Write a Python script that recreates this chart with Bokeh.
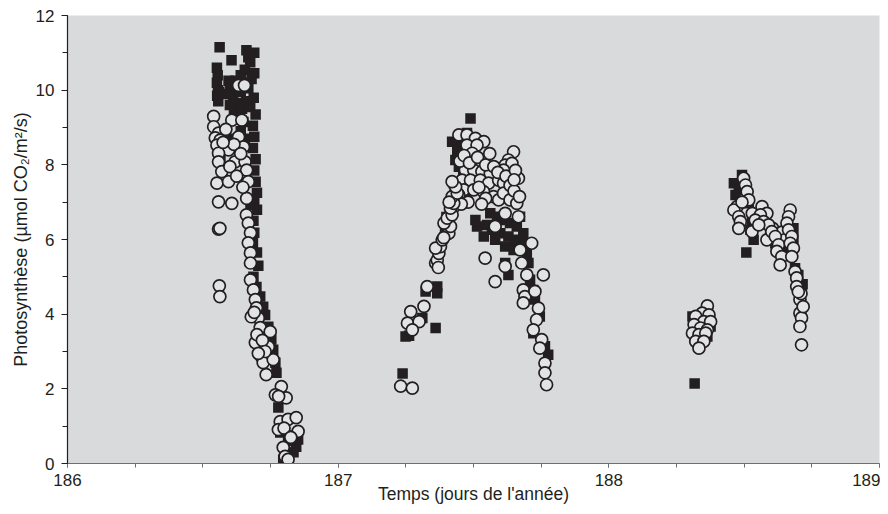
from bokeh.plotting import figure
from bokeh.models import SingleIntervalTicker, Range1d
from bokeh.embed import file_html
from bokeh.resources import INLINE

# ---- data (day of year, photosynthesis µmol CO2/m2/s) ----
sq_day = [
    186.562, 186.606, 186.661, 186.668, 186.655,
    186.552, 186.555, 186.552, 186.556, 186.553, 186.557, 186.560,
    186.600, 186.612, 186.625, 186.640, 186.655, 186.668, 186.680, 186.690,
    186.600, 186.615, 186.630, 186.645, 186.660, 186.675, 186.688, 186.695,
    186.650, 186.685, 186.620, 186.640, 186.675, 186.690, 186.585, 186.595,
    186.560, 186.565, 186.570, 186.600, 186.640, 186.655,
    186.690, 186.685, 186.695, 186.690, 186.695, 186.700, 186.690, 186.700, 186.676,
    186.687, 186.690, 186.685, 186.700, 186.705, 186.687, 186.698, 186.712,
    186.723, 186.730, 186.742, 186.753, 186.760, 186.768, 186.772, 186.779,
    186.786, 186.845, 186.804, 186.797, 186.852, 186.835, 186.815, 186.830,
    187.489, 187.238, 187.262, 187.249, 187.311, 187.360, 187.323, 187.366, 187.366,
    187.421, 187.440, 187.433, 187.446, 187.476, 187.483, 187.427, 187.476,
    187.507, 187.513, 187.538,
    187.562, 187.587, 187.611, 187.635, 187.660, 187.684, 187.568, 187.599,
    187.629, 187.654, 187.684, 187.617, 187.648, 187.697, 187.550, 187.580,
    187.672, 187.617, 187.629, 187.703, 187.709, 187.721, 187.727, 187.721,
    187.745, 187.764, 187.776,
    187.400, 187.410, 187.395, 187.380, 187.430, 187.455, 187.470, 187.462,
    188.317, 188.309, 188.315, 188.376, 188.364, 188.330,
    188.492, 188.462, 188.480, 188.468, 188.517, 188.529, 188.523, 188.535,
    188.508, 188.566, 188.596, 188.615, 188.645, 188.664, 188.682, 188.682,
    188.688, 188.700, 188.712, 188.716, 188.500,
]
sq_ps = [
    11.15, 10.80, 11.07, 10.88, 10.55,
    10.60, 10.40, 10.20, 10.00, 9.85, 9.70, 9.95,
    10.05, 9.85, 9.65, 9.95, 10.20, 10.05, 10.30, 10.45,
    9.60, 9.40, 9.25, 9.50, 9.70, 9.55, 9.80, 9.35,
    9.15, 9.05, 10.25, 10.40, 10.75, 11.00, 9.90, 10.25,
    8.55, 8.20, 7.90, 8.70, 8.90, 8.70,
    8.75, 8.45, 8.15, 7.85, 7.55, 7.25, 7.00, 6.80, 6.93,
    6.50, 6.18, 5.90, 5.65, 5.30, 5.00, 4.73, 4.47,
    4.20, 3.98, 3.66, 3.32, 3.05, 2.70, 2.43, 1.50,
    0.83, 0.45, 0.29, 0.10, 0.64, 0.30, 0.60, 0.75,
    9.24, 2.41, 3.42, 3.40, 3.90, 3.63, 4.61, 4.74, 4.56,
    8.62, 8.40, 8.13, 7.95, 8.85, 8.31, 7.51, 7.10,
    6.52, 6.35, 6.08,
    6.70, 6.61, 6.52, 6.44, 6.35, 6.17, 6.26, 6.17,
    6.08, 5.99, 5.90, 5.81, 5.72, 5.63, 6.39, 5.99,
    6.61, 5.37, 5.05, 5.37, 4.92, 4.65, 4.39, 3.49,
    3.94, 3.14, 2.91,
    6.60, 6.90, 6.30, 5.90, 7.20, 8.60, 8.45, 7.70,
    2.14, 3.94, 3.49, 3.67, 3.40, 3.75,
    7.73, 7.51, 7.33, 7.19, 6.97, 6.52, 6.26, 5.99,
    5.65, 6.48, 6.17, 5.90, 5.72, 5.59, 6.30, 6.03,
    5.23, 5.05, 4.65, 4.80, 7.60,
]

ci_day = [
    186.632, 186.654, 186.540, 186.607, 186.644, 186.540, 186.558, 186.546,
    186.564, 186.632, 186.650, 186.552, 186.595, 186.558, 186.558, 186.619,
    186.656, 186.570, 186.662, 186.668, 186.552, 186.595, 186.558, 186.607,
    186.662, 186.558, 186.563, 186.561, 186.563,
    186.585, 186.615, 186.640, 186.575, 186.600, 186.625, 186.648,
    186.661, 186.668, 186.676, 186.668, 186.676, 186.676, 186.676, 186.687,
    186.694, 186.698, 186.705, 186.679, 186.712, 186.749, 186.694, 186.742,
    186.716, 186.723, 186.734, 186.760, 186.790, 186.768, 186.808, 186.786,
    186.815, 186.845, 186.779, 186.852, 186.797, 186.804, 186.815,
    186.690, 186.700, 186.720, 186.730, 186.705, 186.780, 186.800, 186.825,
    187.446, 187.476, 187.507, 187.538, 187.476, 187.513, 187.495, 187.648,
    187.629, 187.617, 187.642,
    187.470, 187.501, 187.531, 187.562, 187.458, 187.489, 187.525, 187.556,
    187.593, 187.611, 187.464, 187.501, 187.537, 187.574, 187.593, 187.446,
    187.440, 187.428, 187.611, 187.635, 187.660, 187.666, 187.611,
    187.450, 187.465, 187.485, 187.515, 187.545, 187.560, 187.575, 187.590,
    187.520, 187.545, 187.480, 187.455, 187.530, 187.620,
    187.635, 187.650, 187.655, 187.650, 187.670,
    187.666, 187.617, 187.580, 187.543, 187.715, 187.672, 187.678, 187.758,
    187.580, 187.617, 187.697, 187.684, 187.690, 187.684, 187.727, 187.740,
    187.733, 187.721, 187.752, 187.745, 187.764, 187.764, 187.770,
    187.329, 187.317, 187.268, 187.256, 187.299, 187.274, 187.231, 187.274,
    187.360, 187.366, 187.372, 187.378, 187.360, 187.385, 187.397, 187.409,
    187.415, 187.391, 187.403, 187.421, 187.415, 187.427, 187.421, 187.440,
    187.434, 187.421, 187.370, 187.390, 187.410,
    188.364, 188.345, 188.370, 188.321, 188.351, 188.376, 188.315, 188.339,
    188.364, 188.309, 188.333, 188.358, 188.321, 188.351, 188.333,
    188.498, 188.505, 188.511, 188.517, 188.474, 188.462, 188.480, 188.486,
    188.480, 188.529, 188.492, 188.530, 188.550, 188.605, 188.640, 188.652,
    188.566, 188.584, 188.560, 188.541, 188.572, 188.590, 188.554,
    188.584, 188.602, 188.615, 188.627, 188.621, 188.639, 188.633, 188.670,
    188.664, 188.658, 188.664, 188.676, 188.670, 188.682, 188.676, 188.688,
    188.694, 188.694, 188.706, 188.706, 188.712, 188.706, 188.712,
    188.710, 188.718, 188.700,
]
ci_ps = [
    10.13, 10.13, 9.30, 9.20, 9.20, 9.02, 8.85, 8.72,
    8.66, 8.75, 8.48, 8.53, 8.40, 8.31, 8.08, 8.08,
    8.08, 7.82, 7.86, 7.55, 7.51, 7.55, 7.01, 6.97,
    7.10, 6.28, 6.30, 4.76, 4.47,
    8.95, 8.55, 8.30, 8.60, 7.95, 7.70, 7.40,
    6.66, 6.44, 6.18, 5.91, 5.64, 5.37, 4.92, 4.65,
    4.39, 4.17, 3.90, 3.93, 3.64, 3.53, 3.24, 3.13,
    2.86, 2.70, 2.38, 2.78, 2.06, 1.84, 1.76, 1.12,
    1.18, 1.23, 0.91, 0.86, 0.43, 0.19, 0.11,
    4.05, 3.45, 3.30, 3.00, 2.95, 1.80, 0.95, 0.70,
    8.80, 8.80, 8.71, 8.62, 8.53, 8.53, 8.31, 8.35,
    8.13, 7.99, 8.04,
    7.86, 7.86, 7.82, 7.77, 7.59, 7.59, 7.59, 7.51,
    7.59, 7.51, 7.33, 7.33, 7.28, 7.15, 7.06, 7.19,
    7.06, 6.88, 7.24, 7.06, 6.97, 7.64, 7.86,
    8.10, 8.25, 8.05, 8.20, 8.00, 8.30, 7.95, 7.80,
    7.40, 7.10, 7.00, 6.95, 6.95, 7.70,
    7.45, 7.30, 7.85, 7.60, 7.15,
    6.61, 6.70, 6.35, 5.50, 5.90, 5.72, 5.37, 5.05,
    4.87, 5.28, 5.05, 4.65, 4.47, 4.30, 4.61, 4.16,
    3.85, 3.58, 3.32, 3.09, 2.69, 2.43, 2.11,
    4.74, 4.21, 4.07, 3.76, 3.80, 3.58, 2.07, 2.02,
    5.37, 5.45, 5.63, 5.81, 5.77, 5.99, 6.12, 6.17,
    6.35, 6.44, 6.57, 6.66, 6.84, 6.97, 7.15, 7.24,
    7.41, 7.55, 5.25, 6.05, 7.00,
    4.22, 4.03, 3.98, 3.94, 3.80, 3.80, 3.72, 3.63,
    3.58, 3.49, 3.45, 3.49, 3.27, 3.27, 3.09,
    7.64, 7.46, 7.28, 7.06, 6.88, 6.79, 6.61, 6.48,
    6.30, 6.21, 7.00, 6.70, 6.55, 6.30, 6.20, 6.00,
    6.88, 6.70, 6.66, 6.52, 6.48, 6.39, 6.39,
    5.99, 6.21, 6.08, 5.86, 5.68, 5.54, 5.32, 6.79,
    6.61, 6.44, 6.26, 6.08, 5.90, 5.77, 5.54, 5.14,
    4.97, 4.74, 4.39, 4.03, 3.90, 3.67, 3.18,
    4.55, 4.20, 4.60,
]

x_ticks = [186, 187, 188, 189]
y_ticks = [0, 2, 4, 6, 8, 10, 12]

INK = "#231f20"
BG = "#d9dadc"

p = figure(width=880, height=506,
           x_range=Range1d(x_ticks[0], x_ticks[-1]), y_range=Range1d(y_ticks[0], y_ticks[-1]),
           output_backend="svg", toolbar_location=None,
           min_border_left=67, min_border_right=1, min_border_top=15, min_border_bottom=42,
           background_fill_color=BG, border_fill_color="white", outline_line_color=None)
p.xgrid.visible = False
p.ygrid.visible = False

xa = p.xaxis[0]
xa.ticker = SingleIntervalTicker(interval=1, num_minor_ticks=4)
xa.axis_label = "Temps (jours de l'année)"
xa.axis_line_color = "#6d6e71"
xa.major_tick_line_color = "#6d6e71"
xa.minor_tick_line_color = "#6d6e71"
xa.major_tick_in = 0
xa.major_tick_out = 4
xa.minor_tick_in = 0
xa.minor_tick_out = 4
xa.major_label_standoff = 6
xa.axis_label_standoff = -5

ya = p.yaxis[0]
ya.ticker = SingleIntervalTicker(interval=2, num_minor_ticks=2)
ya.axis_label = "Photosynthèse (µmol CO₂/m²/s)"
ya.axis_line_color = INK
ya.major_tick_line_color = INK
ya.minor_tick_line_color = INK
ya.major_tick_in = 0
ya.major_tick_out = 6
ya.minor_tick_in = 0
ya.minor_tick_out = 5
ya.major_label_standoff = 7
ya.axis_label_standoff = 2

for ax in (xa, ya):
    ax.major_label_text_font = "Liberation Sans"
    ax.major_label_text_font_size = "17px"
    ax.major_label_text_color = INK
    ax.axis_label_text_font = "Liberation Sans"
    ax.axis_label_text_font_style = "normal"
    ax.axis_label_text_color = INK
    ax.axis_line_width = 1.2
xa.axis_label_text_font_size = "17.5px"
ya.axis_label_text_font_size = "18px"

p.scatter(sq_day, sq_ps, marker="square", size=10.5, fill_color=INK, line_color=None)
p.scatter(ci_day, ci_ps, marker="circle", size=12, fill_color="#e2e3e5",
          line_color=INK, line_width=1.7)

open("out.html", "w").write(file_html(p, INLINE))
